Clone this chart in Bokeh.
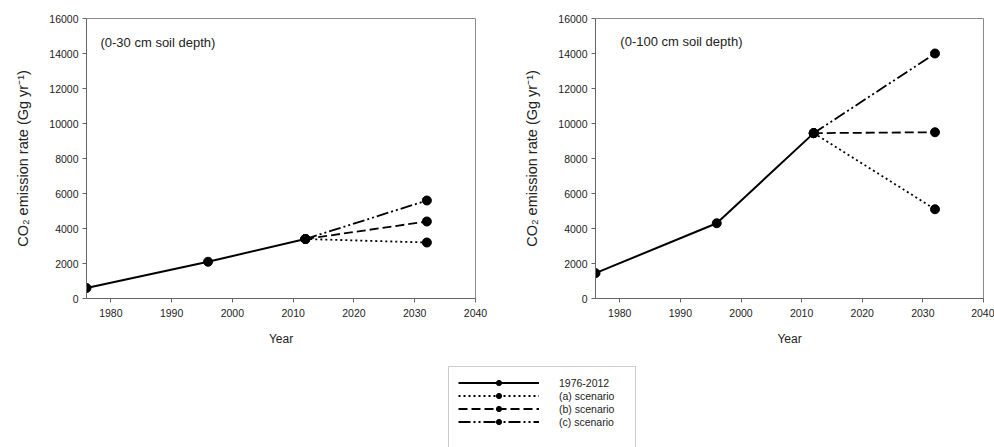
from bokeh.plotting import figure
from bokeh.layouts import column, row
from bokeh.models import (Range1d, SingleIntervalTicker, Label, Legend, LegendItem,
                          ColumnDataSource)
from bokeh.embed import file_html
from bokeh.resources import INLINE

FONT = "Liberation Sans"

# ---- data ----
hist_years = [1976, 1996, 2012]
scen_years = [2012, 2032]

hist_30 = [600, 2100, 3400]
a_30 = [3400, 3200]
b_30 = [3400, 4400]
c_30 = [3400, 5600]

hist_100 = [1450, 4300, 9450]
a_100 = [9450, 5100]
b_100 = [9450, 9500]
c_100 = [9450, 14000]

series_labels = ["1976-2012", "(a) scenario", "(b) scenario", "(c) scenario"]
panel_titles = ["(0-30 cm soil depth)", "(0-100 cm soil depth)"]
y_label = "CO\u2082 emission rate (Gg yr\u207b\u00b9)"
x_label = "Year"

DASHES = ["solid", "2 3", "9 4", "12 3 2 3 2 3"]


def make_panel(hist, a, b, c, title, width, left, right, title_x, title_y):
    p = figure(width=width, height=350, x_range=Range1d(1976, 2040),
               y_range=Range1d(0, 16000), output_backend="svg", toolbar_location=None,
               min_border_left=left, min_border_right=right, min_border_top=18,
               min_border_bottom=52)
    p.xgrid.visible = False
    p.ygrid.visible = False
    p.outline_line_color = "#8a8a8a"
    p.outline_line_width = 1
    p.xaxis.ticker = SingleIntervalTicker(interval=10, num_minor_ticks=0)
    p.yaxis.ticker = SingleIntervalTicker(interval=2000, num_minor_ticks=0)
    for ax in (p.xaxis[0], p.yaxis[0]):
        ax.axis_line_color = "#666666"
        ax.major_tick_line_color = "#666666"
        ax.major_tick_in = 0
        ax.major_tick_out = 4
        ax.minor_tick_line_color = None
        ax.major_label_text_font = FONT
        ax.major_label_text_font_size = "10.5px"
        ax.major_label_text_color = "#222222"
        ax.axis_label_text_font = FONT
        ax.axis_label_text_font_style = "normal"
        ax.axis_label_text_color = "#222222"
    p.yaxis.axis_label = y_label
    p.yaxis.axis_label_text_font_size = "14.5px"
    p.yaxis.axis_label_standoff = 15
    p.yaxis.major_label_standoff = 4
    p.xaxis.axis_label = x_label
    p.xaxis.axis_label_text_font_size = "12px"
    p.xaxis.axis_label_standoff = 12
    p.xaxis.major_label_standoff = 6

    for vals, dash in zip([a, b, c], DASHES[1:]):
        p.line(scen_years, vals, line_color="black", line_width=1.8, line_dash=dash)
        p.scatter(scen_years, vals, size=9, fill_color="black", line_color="black")
    p.line(hist_years, hist, line_color="black", line_width=2)
    p.scatter(hist_years, hist, size=9, fill_color="black", line_color="black")

    p.add_layout(Label(x=title_x, y=title_y, text=title, text_font=FONT,
                       text_font_size="13px", text_baseline="middle",
                       text_color="#222222"))
    return p


p1 = make_panel(hist_30, a_30, b_30, c_30, panel_titles[0], 490, 86, 15, 1978.3, 14650)
p2 = make_panel(hist_100, a_100, b_100, c_100, panel_titles[1], 504, 105, 11, 1980.1, 14700)

# ---- legend panel ----
pl = figure(width=994, height=97, x_range=Range1d(0, 1), y_range=Range1d(0, 1),
            output_backend="svg", toolbar_location=None, min_border=0)
pl.axis.visible = False
pl.xgrid.visible = False
pl.ygrid.visible = False
pl.outline_line_color = None

# legend-only renderers: their points lie outside the visible range
off = dict(x=[-5, -4], y=[-5, -4])
items = []
for lab, dash in zip(series_labels, DASHES):
    src = ColumnDataSource(data=off)
    lr = pl.line("x", "y", source=src, line_color="black",
                 line_width=2 if dash == "solid" else 1.8, line_dash=dash)
    sr = pl.scatter("x", "y", source=src, size=7, fill_color="black", line_color="black")
    items.append(LegendItem(label=lab, renderers=[lr, sr]))
blank = pl.line("x", "y", source=ColumnDataSource(data=off), line_alpha=0)
items.append(LegendItem(label=" ", renderers=[blank]))

legend = Legend(items=items, location=(448, 97 - 18 - 83), orientation="vertical",
                label_text_font=FONT, label_text_font_size="10.5px", label_text_color="#222222",
                glyph_width=81, glyph_height=13, label_height=13, label_width=67,
                label_standoff=20, padding=9, spacing=0, margin=0,
                border_line_color="#999999", border_line_width=1,
                background_fill_color="white", background_fill_alpha=1)
pl.add_layout(legend, "center")

layout = column(row(p1, p2), pl)
open("out.html", "w").write(file_html(layout, INLINE))
